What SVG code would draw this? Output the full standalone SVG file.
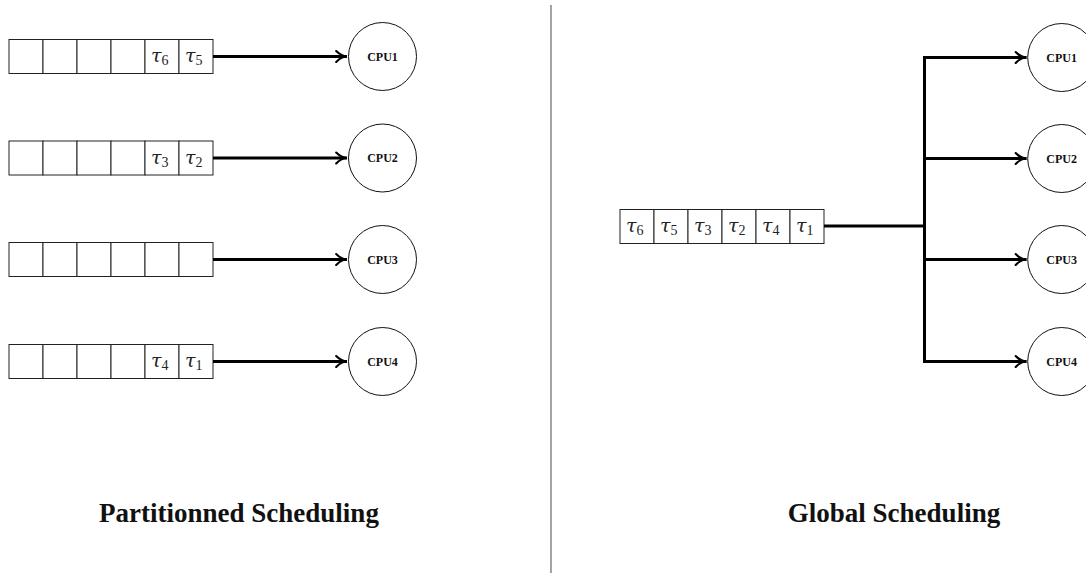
<svg xmlns="http://www.w3.org/2000/svg" width="1086" height="576" viewBox="0 0 1086 576">
  <defs>
    <style>
      .cell { fill: #ffffff; stroke: #222; stroke-width: 1; }
      .cpu { fill: #ffffff; stroke: #111; stroke-width: 1; }
      .cpu-label { font-family: "Liberation Serif", "DejaVu Serif", serif; font-weight: bold; font-size: 12px; fill: #111; text-anchor: middle; }
      .tau { font-family: "DejaVu Serif", "Liberation Serif", serif; font-size: 19px; fill: #222; }
      .tau .sub { font-family: "Liberation Serif", serif; font-size: 14px; font-style: normal; }
      .wire { fill: none; stroke: #000; stroke-width: 3; }
      .title { font-family: "Liberation Serif", "DejaVu Serif", serif; font-weight: bold; font-size: 27px; fill: #111; text-anchor: middle; }
      .divider { stroke: #666; stroke-width: 1.2; }
    </style>
    <marker id="tip" viewBox="0 0 10 10" refX="9" refY="5" markerWidth="4.5" markerHeight="4.5" orient="auto" markerUnits="strokeWidth">
      <path d="M1,1 Q5,5 9,5 Q5,5 1,9" fill="none" stroke="#000" stroke-width="1.6" stroke-linecap="round"/>
    </marker>
  </defs>

  <!-- separator between the two schemes -->
  <line class="divider" x1="551" y1="5" x2="551" y2="573"/>

  <!-- partitioned: one queue per processor -->
  <g id="queue-p1">
    <rect class="cell" x="9" y="39.5" width="34" height="34"/>
    <rect class="cell" x="43" y="39.5" width="34" height="34"/>
    <rect class="cell" x="77" y="39.5" width="34" height="34"/>
    <rect class="cell" x="111" y="39.5" width="34" height="34"/>
    <rect class="cell" x="145" y="39.5" width="34" height="34"/>
    <rect class="cell" x="179" y="39.5" width="34" height="34"/>
    <text class="tau" x="151" y="62"><tspan font-style="italic">τ</tspan><tspan class="sub" dy="3">6</tspan></text>
    <text class="tau" x="185" y="62"><tspan font-style="italic">τ</tspan><tspan class="sub" dy="3">5</tspan></text>
  </g>
  <g id="queue-p2">
    <rect class="cell" x="9" y="141" width="34" height="34"/>
    <rect class="cell" x="43" y="141" width="34" height="34"/>
    <rect class="cell" x="77" y="141" width="34" height="34"/>
    <rect class="cell" x="111" y="141" width="34" height="34"/>
    <rect class="cell" x="145" y="141" width="34" height="34"/>
    <rect class="cell" x="179" y="141" width="34" height="34"/>
    <text class="tau" x="151" y="163.5"><tspan font-style="italic">τ</tspan><tspan class="sub" dy="3">3</tspan></text>
    <text class="tau" x="185" y="163.5"><tspan font-style="italic">τ</tspan><tspan class="sub" dy="3">2</tspan></text>
  </g>
  <g id="queue-p3">
    <rect class="cell" x="9" y="242.5" width="34" height="34"/>
    <rect class="cell" x="43" y="242.5" width="34" height="34"/>
    <rect class="cell" x="77" y="242.5" width="34" height="34"/>
    <rect class="cell" x="111" y="242.5" width="34" height="34"/>
    <rect class="cell" x="145" y="242.5" width="34" height="34"/>
    <rect class="cell" x="179" y="242.5" width="34" height="34"/>
  </g>
  <g id="queue-p4">
    <rect class="cell" x="9" y="344.5" width="34" height="34"/>
    <rect class="cell" x="43" y="344.5" width="34" height="34"/>
    <rect class="cell" x="77" y="344.5" width="34" height="34"/>
    <rect class="cell" x="111" y="344.5" width="34" height="34"/>
    <rect class="cell" x="145" y="344.5" width="34" height="34"/>
    <rect class="cell" x="179" y="344.5" width="34" height="34"/>
    <text class="tau" x="151" y="367"><tspan font-style="italic">τ</tspan><tspan class="sub" dy="3">4</tspan></text>
    <text class="tau" x="185" y="367"><tspan font-style="italic">τ</tspan><tspan class="sub" dy="3">1</tspan></text>
  </g>

  <g id="cpu-p1">
    <circle class="cpu" cx="382.5" cy="56.5" r="34"/>
    <text class="cpu-label" x="382.5" y="60.5">CPU1</text>
  </g>
  <g id="cpu-p2">
    <circle class="cpu" cx="382.5" cy="158" r="34"/>
    <text class="cpu-label" x="382.5" y="162">CPU2</text>
  </g>
  <g id="cpu-p3">
    <circle class="cpu" cx="382.5" cy="259.5" r="34"/>
    <text class="cpu-label" x="382.5" y="263.5">CPU3</text>
  </g>
  <g id="cpu-p4">
    <circle class="cpu" cx="382.5" cy="361.5" r="34"/>
    <text class="cpu-label" x="382.5" y="365.5">CPU4</text>
  </g>

  <!-- global: one shared queue -->
  <g id="queue-global">
    <rect class="cell" x="620" y="209.5" width="34" height="34"/>
    <rect class="cell" x="654" y="209.5" width="34" height="34"/>
    <rect class="cell" x="688" y="209.5" width="34" height="34"/>
    <rect class="cell" x="722" y="209.5" width="34" height="34"/>
    <rect class="cell" x="756" y="209.5" width="34" height="34"/>
    <rect class="cell" x="790" y="209.5" width="34" height="34"/>
    <text class="tau" x="626" y="232"><tspan font-style="italic">τ</tspan><tspan class="sub" dy="3">6</tspan></text>
    <text class="tau" x="660" y="232"><tspan font-style="italic">τ</tspan><tspan class="sub" dy="3">5</tspan></text>
    <text class="tau" x="694" y="232"><tspan font-style="italic">τ</tspan><tspan class="sub" dy="3">3</tspan></text>
    <text class="tau" x="728" y="232"><tspan font-style="italic">τ</tspan><tspan class="sub" dy="3">2</tspan></text>
    <text class="tau" x="762" y="232"><tspan font-style="italic">τ</tspan><tspan class="sub" dy="3">4</tspan></text>
    <text class="tau" x="796" y="232"><tspan font-style="italic">τ</tspan><tspan class="sub" dy="3">1</tspan></text>
  </g>

  <g id="cpu-g1">
    <circle class="cpu" cx="1061.7" cy="57.5" r="34"/>
    <text class="cpu-label" x="1061.7" y="61.5">CPU1</text>
  </g>
  <g id="cpu-g2">
    <circle class="cpu" cx="1061.7" cy="158.5" r="34"/>
    <text class="cpu-label" x="1061.7" y="162.5">CPU2</text>
  </g>
  <g id="cpu-g3">
    <circle class="cpu" cx="1061.7" cy="259.5" r="34"/>
    <text class="cpu-label" x="1061.7" y="263.5">CPU3</text>
  </g>
  <g id="cpu-g4">
    <circle class="cpu" cx="1061.7" cy="361.5" r="34"/>
    <text class="cpu-label" x="1061.7" y="365.5">CPU4</text>
  </g>

  <g id="connectors">
    <line class="wire" x1="213" y1="56.5" x2="347" y2="56.5" marker-end="url(#tip)"/>
    <line class="wire" x1="213" y1="158" x2="347" y2="158" marker-end="url(#tip)"/>
    <line class="wire" x1="213" y1="259.5" x2="347" y2="259.5" marker-end="url(#tip)"/>
    <line class="wire" x1="213" y1="361.5" x2="347" y2="361.5" marker-end="url(#tip)"/>

    <line class="wire" x1="824" y1="226" x2="924.5" y2="226"/>
    <line class="wire" x1="924.5" y1="56" x2="924.5" y2="363"/>
    <line class="wire" x1="923" y1="57.5" x2="1026.5" y2="57.5" marker-end="url(#tip)"/>
    <line class="wire" x1="923" y1="158.5" x2="1026.5" y2="158.5" marker-end="url(#tip)"/>
    <line class="wire" x1="923" y1="259.5" x2="1026.5" y2="259.5" marker-end="url(#tip)"/>
    <line class="wire" x1="923" y1="361.5" x2="1026.5" y2="361.5" marker-end="url(#tip)"/>
  </g>

  <text class="title" x="239" y="522">Partitionned Scheduling</text>
  <text class="title" x="894" y="522">Global Scheduling</text>
</svg>
